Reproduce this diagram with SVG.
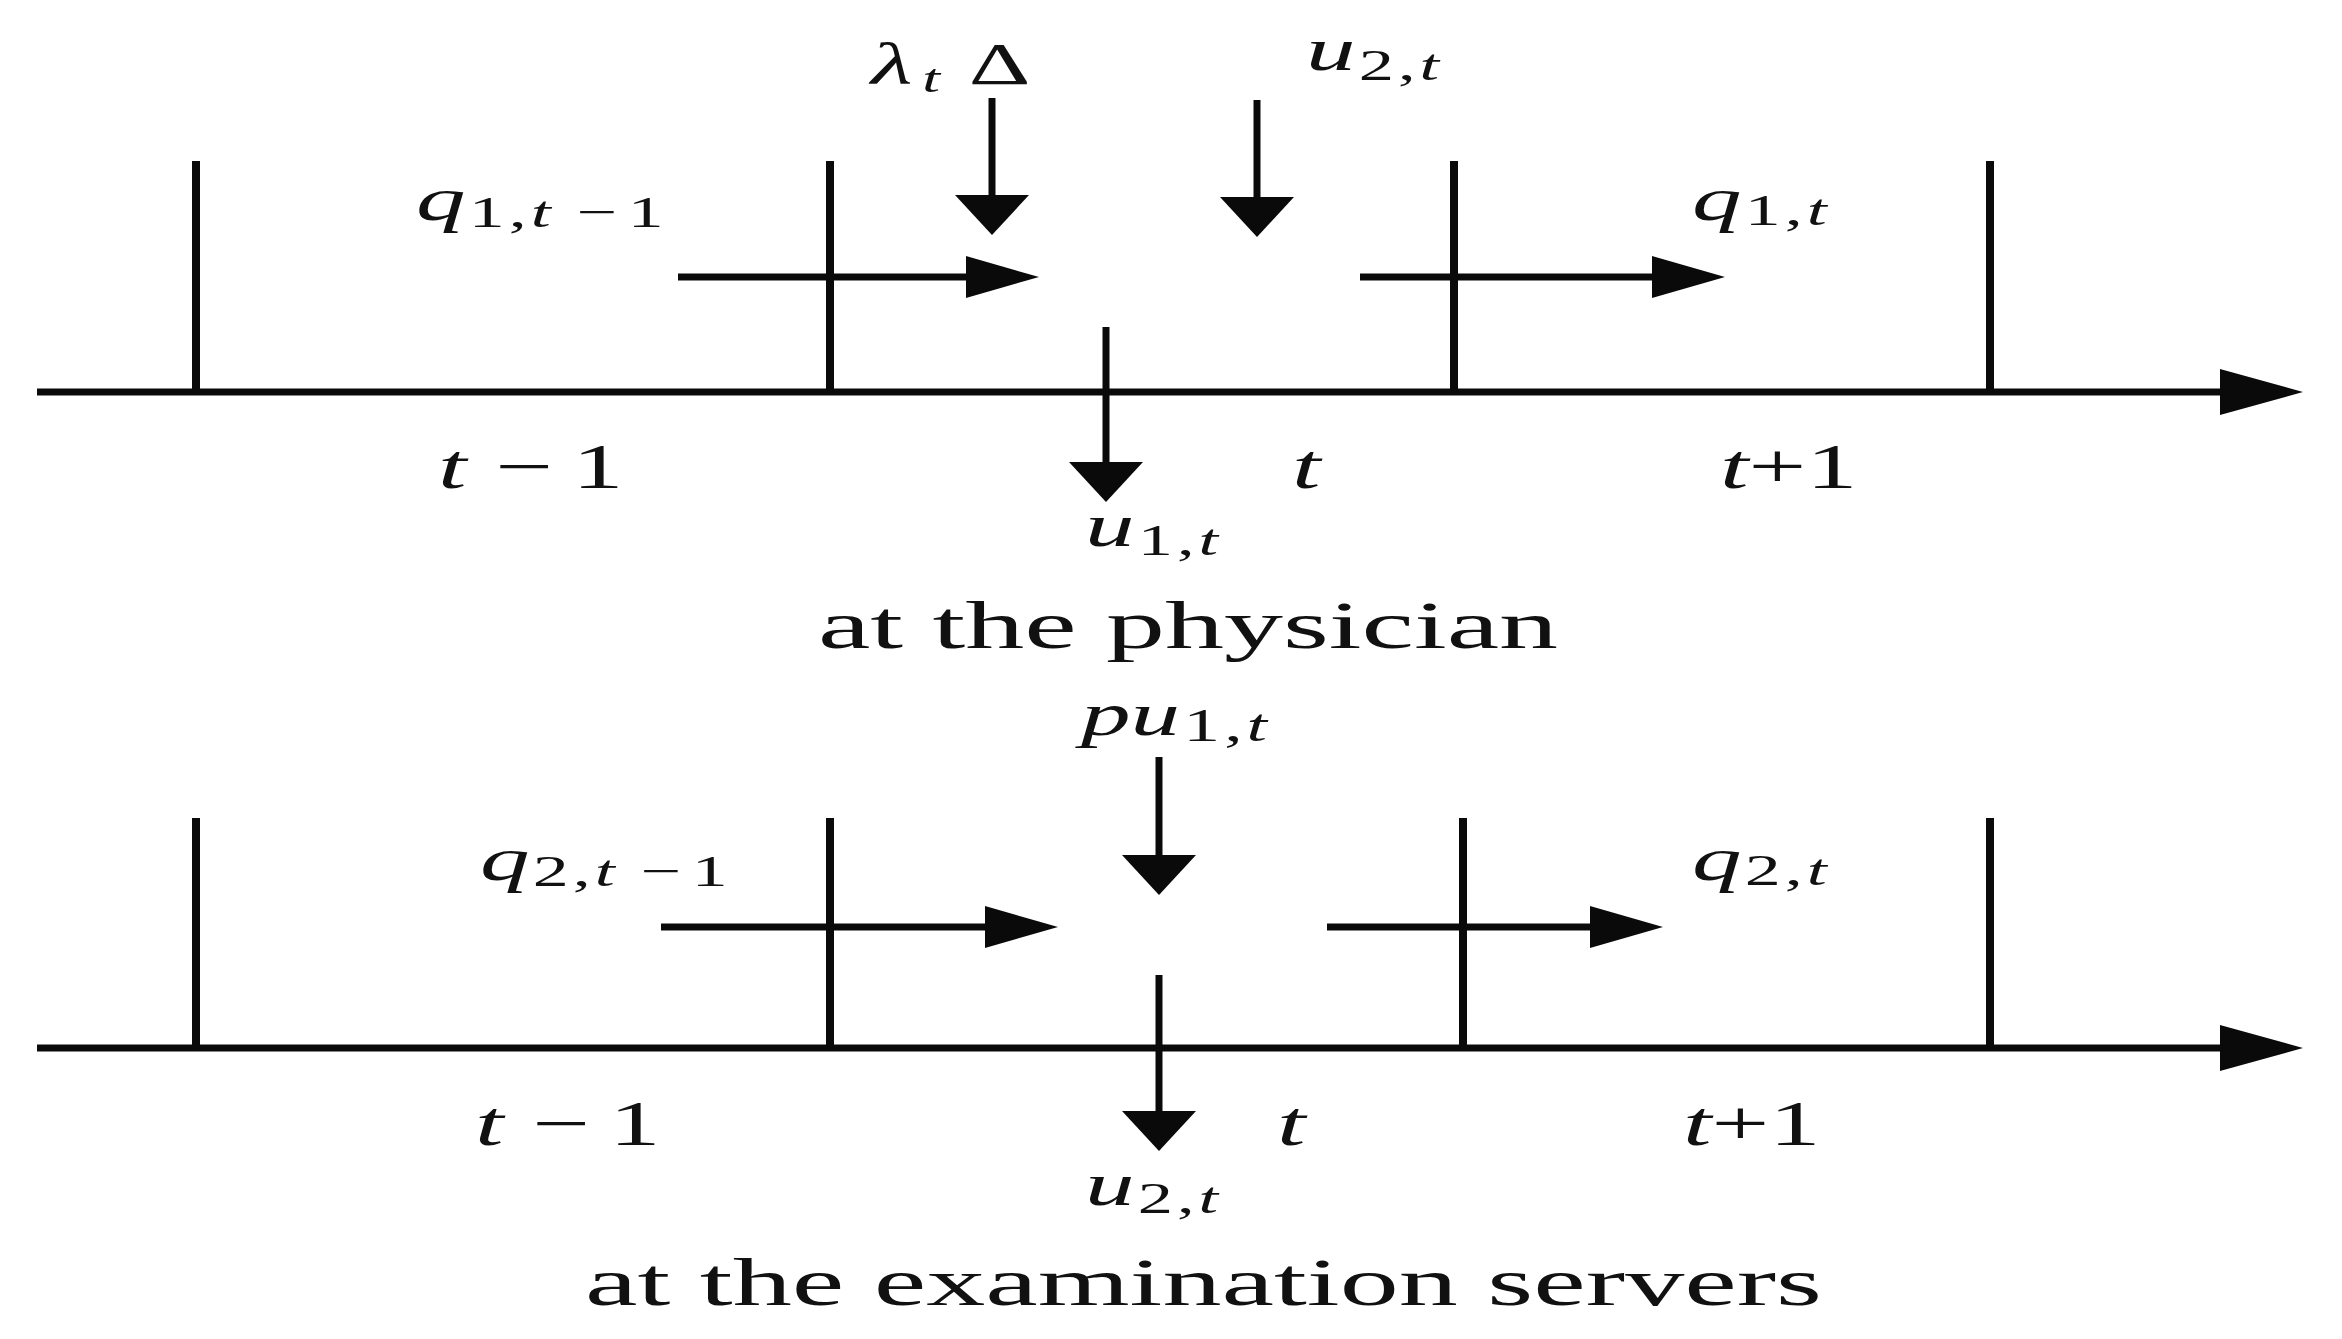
<svg xmlns="http://www.w3.org/2000/svg" width="2342" height="1339" viewBox="0 0 2342 1339">
<style>
  .ln { stroke:#0a0a0a; fill:none; stroke-width:7; }
  .tk { stroke:#0a0a0a; fill:none; stroke-width:8; }
  .ax { stroke:#0a0a0a; fill:none; stroke-width:7; }
  .lbl { font-family:"Liberation Serif","Times New Roman",serif; fill:#111; }
  .it { font-style:italic; }
  .sub { letter-spacing:2.5px; }
  .cap { font-family:"Liberation Serif","Times New Roman",serif; fill:#111; font-size:68px; }
</style>
<defs>
  <marker id="hh" markerUnits="userSpaceOnUse" markerWidth="80" markerHeight="50" refX="0" refY="0" viewBox="0 -25 80 50" orient="auto" overflow="visible">
    <path d="M0,-21 L73,0 L0,21 Z" fill="#0a0a0a"/>
  </marker>
  <marker id="vh" markerUnits="userSpaceOnUse" markerWidth="50" markerHeight="80" refX="0" refY="0" viewBox="0 -40 50 80" orient="auto" overflow="visible">
    <path d="M0,-37 L40,0 L0,37 Z" fill="#0a0a0a"/>
  </marker>
  <marker id="ah" markerUnits="userSpaceOnUse" markerWidth="90" markerHeight="50" refX="0" refY="0" viewBox="0 -25 90 50" orient="auto" overflow="visible">
    <path d="M0,-23 L83,0 L0,23 Z" fill="#0a0a0a"/>
  </marker>
</defs>
<rect width="2342" height="1339" fill="#fff"/>

<g id="connectors">
  <!-- top timeline -->
  <path class="ax" d="M37,392 H2220" marker-end="url(#ah)"/>
  <path class="tk" d="M196,161 V392 M830,161 V392 M1454,161 V392 M1990,161 V392"/>
  <path class="ln" d="M678,277 H966" marker-end="url(#hh)"/>
  <path class="ln" d="M1360,277 H1652" marker-end="url(#hh)"/>
  <path class="ln" d="M992,98 V195" marker-end="url(#vh)"/>
  <path class="ln" d="M1257,100 V197" marker-end="url(#vh)"/>
  <path class="ln" d="M1106,327 V462" marker-end="url(#vh)"/>
  <!-- bottom timeline -->
  <path class="ax" d="M37,1048 H2220" marker-end="url(#ah)"/>
  <path class="tk" d="M196,818 V1048 M830,818 V1048 M1463,818 V1048 M1990,818 V1048"/>
  <path class="ln" d="M661,927 H985" marker-end="url(#hh)"/>
  <path class="ln" d="M1327,927 H1590" marker-end="url(#hh)"/>
  <path class="ln" d="M1159,757 V855" marker-end="url(#vh)"/>
  <path class="ln" d="M1159,975 V1111" marker-end="url(#vh)"/>
</g>

<g id="label-q1-prev">
  <text class="lbl" transform="translate(416,220) scale(1.6,1)"><tspan class="it" font-size="62">q</tspan><tspan class="sub" font-size="45" dx="2" dy="7">1,</tspan><tspan class="it sub" font-size="45">t</tspan><tspan class="sub" font-size="45"> −</tspan><tspan font-size="45" dx="4">1</tspan></text>
</g>
<g id="label-lambda">
  <text class="lbl" transform="translate(871,84) scale(1.6,1)"><tspan class="it" font-size="60">λ</tspan><tspan class="it" font-size="40" dx="6" dy="8">t</tspan><tspan font-size="60" dx="18" dy="-8">Δ</tspan></text>
</g>
<g id="label-u2-top">
  <text class="lbl" transform="translate(1306,70) scale(1.6,1)"><tspan class="it" font-size="62">u</tspan><tspan class="sub" font-size="44" dx="2" dy="10">2,</tspan><tspan class="it" font-size="44">t</tspan></text>
</g>
<g id="label-q1">
  <text class="lbl" transform="translate(1692,220) scale(1.6,1)"><tspan class="it" font-size="62">q</tspan><tspan class="sub" font-size="45" dx="2" dy="5">1,</tspan><tspan class="it" font-size="45">t</tspan></text>
</g>
<g id="label-tm1-top">
  <text class="lbl" font-size="64" transform="translate(438,488) scale(1.6,1)"><tspan class="it">t</tspan><tspan dx="2"> −</tspan><tspan dx="12">1</tspan></text>
</g>
<g id="label-t-top">
  <text class="lbl it" font-size="64" transform="translate(1292,488) scale(1.6,1)">t</text>
</g>
<g id="label-tp1-top">
  <text class="lbl" font-size="64" transform="translate(1720,488) scale(1.6,1)"><tspan class="it">t</tspan><tspan>+1</tspan></text>
</g>
<g id="label-u1">
  <text class="lbl" transform="translate(1085,546) scale(1.6,1)"><tspan class="it" font-size="62">u</tspan><tspan class="sub" font-size="44" dx="2" dy="9">1,</tspan><tspan class="it" font-size="44">t</tspan></text>
</g>
<g id="caption-physician">
  <text class="cap" x="818" y="648" textLength="740" lengthAdjust="spacingAndGlyphs">at the physician</text>
</g>
<g id="label-pu1">
  <text class="lbl" transform="translate(1081,735) scale(1.6,1)"><tspan class="it" font-size="62">pu</tspan><tspan class="sub" font-size="46" dx="2" dy="6">1,</tspan><tspan class="it" font-size="46">t</tspan></text>
</g>
<g id="label-q2-prev">
  <text class="lbl" transform="translate(480,880) scale(1.6,1)"><tspan class="it" font-size="62">q</tspan><tspan class="sub" font-size="45" dx="2" dy="6">2,</tspan><tspan class="it sub" font-size="45">t</tspan><tspan class="sub" font-size="45"> −</tspan><tspan font-size="45" dx="4">1</tspan></text>
</g>
<g id="label-q2">
  <text class="lbl" transform="translate(1692,880) scale(1.6,1)"><tspan class="it" font-size="62">q</tspan><tspan class="sub" font-size="45" dx="2" dy="5">2,</tspan><tspan class="it" font-size="45">t</tspan></text>
</g>
<g id="label-tm1-bot">
  <text class="lbl" font-size="64" transform="translate(475,1145) scale(1.6,1)"><tspan class="it">t</tspan><tspan dx="2"> −</tspan><tspan dx="12">1</tspan></text>
</g>
<g id="label-t-bot">
  <text class="lbl it" font-size="64" transform="translate(1277,1145) scale(1.6,1)">t</text>
</g>
<g id="label-tp1-bot">
  <text class="lbl" font-size="64" transform="translate(1683,1145) scale(1.6,1)"><tspan class="it">t</tspan><tspan>+1</tspan></text>
</g>
<g id="label-u2-bot">
  <text class="lbl" transform="translate(1085,1205) scale(1.6,1)"><tspan class="it" font-size="62">u</tspan><tspan class="sub" font-size="44" dx="2" dy="8">2,</tspan><tspan class="it" font-size="44">t</tspan></text>
</g>
<g id="caption-exam">
  <text class="cap" x="585" y="1305" textLength="1237" lengthAdjust="spacingAndGlyphs">at the examination servers</text>
</g>
</svg>
